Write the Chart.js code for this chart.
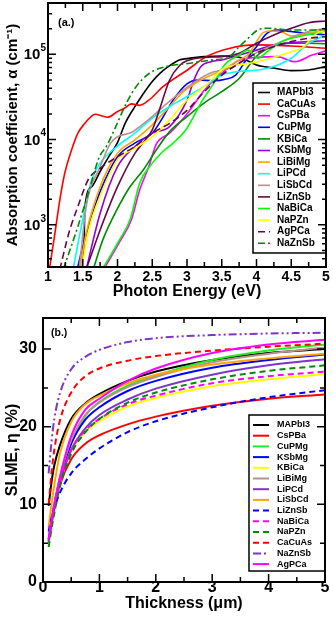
<!DOCTYPE html>
<html>
<head>
<meta charset="utf-8">
<script src="https://cdn.jsdelivr.net/npm/chart.js@4.4.1/dist/chart.umd.min.js"></script>
<style>
  html, body { margin: 0; padding: 0; background: #fff; }
  .panel { position: absolute; left: 0; width: 333px; }
  #pa { top: 0; height: 300px; }
  #pb { top: 300px; height: 320px; }
</style>
</head>
<body>
<div class="panel" id="pa"><canvas id="chart-abs" width="333" height="300"></canvas></div>
<div class="panel" id="pb"><canvas id="chart-slme" width="333" height="320"></canvas></div>
<script>
const FONT = "'Liberation Sans', Arial, Helvetica, sans-serif";
Chart.defaults.font.family = FONT;
Chart.defaults.color = '#000';

// --- (a.) absorption coefficient vs photon energy ---
const absLabels = ['MAPbI3', 'CaCuAs', 'CsPBa', 'CuPMg', 'KBiCa', 'KSbMg', 'LiBiMg', 'LiPCd', 'LiSbCd', 'LiZnSb', 'NaBiCa', 'NaPZn', 'AgPCa', 'NaZnSb'];
const absColors = ['#000000', '#ff0000', '#ff00ff', '#0000ff', '#008b00', '#9400d3', '#ffa500', '#00ffff', '#bc8f8f', '#670748', '#00ff00', '#ffff00', '#670748', '#008b00'];

const eMAPbI3 = [1.48, 1.52, 1.53, 1.63, 1.75, 1.89, 2.0, 2.11, 2.25, 2.35, 2.5, 2.61, 2.75, 2.89, 3.0, 3.25, 3.5, 3.75, 4.0, 4.25, 4.5, 4.75, 5.0];
const aMAPbI3 = [300, 670, 1580, 2810, 4220, 6600, 9230, 15500, 24400, 32500, 47900, 59800, 73600, 86000, 89000, 94000, 95600, 92300, 75000, 69000, 64400, 65500, 71800];
const eCaCuAs = [1.02, 1.1, 1.17, 1.24, 1.34, 1.43, 1.53, 1.62, 1.68, 1.78, 1.86, 2.0, 2.1, 2.2, 2.32, 2.45, 2.66, 3.0, 3.28, 3.62, 4.0, 4.5, 5.0];
const aCaCuAs = [300, 800, 1960, 4000, 7600, 11900, 15500, 18600, 19800, 18900, 18300, 21300, 23300, 26200, 25200, 29000, 42000, 65000, 94000, 118000, 129000, 125000, 118000];
const eCsPBa = [1.8, 2.02, 2.2, 2.32, 2.45, 2.56, 2.75, 3.0, 3.25, 3.5, 3.75, 4.0, 4.3, 4.55, 4.8, 5.0];
const aCsPBa = [300, 610, 1150, 2570, 4800, 8900, 11900, 20000, 38000, 60000, 85000, 92000, 94000, 82000, 98000, 110000];
const eCuPMg = [1.42, 1.5, 1.63, 1.75, 2.0, 2.25, 2.5, 2.6, 2.8, 3.0, 3.15, 3.4, 3.55, 3.7, 3.85, 4.0, 4.15, 4.3, 4.5, 4.75, 5.0];
const aCuPMg = [300, 557, 1250, 2450, 6300, 9100, 11900, 15500, 29000, 44900, 50000, 49000, 51000, 57000, 86000, 123000, 176000, 193000, 185000, 176000, 169000];
const eKBiCa = [1.65, 1.79, 1.99, 2.18, 2.37, 2.56, 2.75, 3.0, 3.25, 3.5, 3.75, 4.0, 4.25, 4.5, 4.75, 5.0];
const aKBiCa = [300, 670, 1500, 2800, 4400, 7600, 12400, 18600, 27000, 36500, 52000, 95000, 125000, 135000, 135000, 133000];
const eKSbMg = [1.55, 1.75, 2.0, 2.25, 2.5, 2.75, 3.0, 3.1, 3.2, 3.35, 3.5, 3.75, 4.0, 4.25, 4.5, 4.75, 5.0];
const aKSbMg = [300, 1370, 4800, 8300, 11900, 14200, 29000, 50000, 72000, 82000, 86000, 98000, 112000, 129000, 137000, 141000, 144000];
const eLiBiMg = [1.46, 1.55, 1.75, 2.0, 2.25, 2.5, 2.75, 2.95, 3.2, 3.5, 3.75, 3.9, 4.0, 4.1, 4.2, 4.35, 4.5, 4.75, 5.0];
const aLiBiMg = [300, 800, 2800, 6900, 9900, 14900, 24400, 36500, 50000, 65000, 86000, 103000, 141000, 181000, 188000, 185000, 164000, 176000, 196000];
const eLiPCd = [1.36, 1.5, 1.63, 1.75, 2.0, 2.25, 2.5, 2.75, 3.0, 3.25, 3.5, 3.75, 4.0, 4.25, 4.5, 4.75, 5.0];
const aLiPCd = [300, 1150, 3400, 5300, 8400, 11900, 17800, 24400, 32000, 42000, 57000, 63000, 65000, 72000, 90000, 135000, 169000];
const eLiSbCd = [1.45, 1.55, 1.75, 1.9, 2.0, 2.2, 2.32, 2.5, 2.66, 3.0, 3.33, 3.62, 4.0, 4.25, 4.5, 4.75, 5.0];
const aLiSbCd = [300, 1640, 4800, 9100, 10800, 12100, 14200, 18600, 24400, 41000, 60000, 69000, 104600, 129000, 158000, 185000, 202000];
const eLiZnSb = [1.55, 1.75, 2.0, 2.25, 2.4, 2.5, 2.6, 2.75, 2.9, 3.0, 3.25, 3.5, 3.75, 4.0, 4.25, 4.5, 4.75, 5.0];
const aLiZnSb = [300, 870, 2800, 6900, 9900, 13000, 22000, 50000, 75000, 84000, 92000, 94000, 103000, 135000, 169000, 202000, 235000, 246000];
const eNaBiCa = [1.78, 2.03, 2.18, 2.32, 2.46, 2.65, 2.8, 3.0, 3.2, 3.4, 3.54, 3.75, 3.88, 4.02, 4.15, 4.36, 4.6, 4.84, 5.0];
const aNaBiCa = [300, 670, 1150, 3100, 4800, 7200, 9100, 13600, 27000, 47900, 75000, 98000, 112000, 90000, 107000, 141000, 161000, 176000, 189000];
const eNaPZn = [1.48, 1.6, 1.75, 2.0, 2.25, 2.5, 2.75, 3.0, 3.25, 3.54, 3.75, 4.02, 4.36, 4.5, 4.65, 4.84, 4.93, 5.0];
const aNaPZn = [300, 955, 2150, 5800, 7900, 10800, 17000, 29000, 42000, 69000, 75000, 82000, 98000, 107000, 118000, 169000, 185000, 176000];
const eAgPCa = [1.17, 1.3, 1.43, 1.58, 1.75, 2.0, 2.25, 2.5, 2.75, 3.0, 3.25, 3.5, 3.75, 4.0, 4.25, 4.5, 4.75, 5.0];
const aAgPCa = [300, 800, 1640, 3400, 4600, 6300, 8300, 11900, 15500, 22000, 36500, 57000, 78500, 103000, 123000, 141000, 154000, 161000];
const eNaZnSb = [1.22, 1.43, 1.58, 1.74, 1.84, 1.98, 2.13, 2.27, 2.46, 2.7, 3.04, 3.37, 3.6, 3.73, 3.88, 4.02, 4.16, 4.5, 5.0];
const aNaZnSb = [300, 955, 2350, 6300, 8300, 14500, 27000, 42000, 60000, 72000, 78500, 86000, 92000, 118000, 154000, 193000, 202000, 193000, 193000];

const absX = [eMAPbI3, eCaCuAs, eCsPBa, eCuPMg, eKBiCa, eKSbMg, eLiBiMg, eLiPCd, eLiSbCd, eLiZnSb, eNaBiCa, eNaPZn, eAgPCa, eNaZnSb];
const absY = [aMAPbI3, aCaCuAs, aCsPBa, aCuPMg, aKBiCa, aKSbMg, aLiBiMg, aLiPCd, aLiSbCd, aLiZnSb, aNaBiCa, aNaPZn, aAgPCa, aNaZnSb];
const absDash = [[], [], [], [], [], [], [], [], [], [], [], [], [7, 4], [7, 3, 2, 3]];
const absXTicks = [1, 1.5, 2, 2.5, 3, 3.5, 4, 4.5, 5];
const absXMinor = [1.25, 1.75, 2.25, 2.75, 3.25, 3.75, 4.25, 4.75];
const absYTicks = [1e3, 1e4, 1e5];

// --- (b.) SLME vs thickness ---
const thick = [0.1, 0.15, 0.2, 0.3, 0.5, 0.75, 1, 1.5, 2, 3, 4, 5];
const slmeLabels = ['MAPbI3', 'CsPBa', 'CuPMg', 'KSbMg', 'KBiCa', 'LiBiMg', 'LiPCd', 'LiSbCd', 'LiZnSb', 'NaBiCa', 'NaPZn', 'CaCuAs', 'NaZnSb', 'AgPCa'];
const slmeColors = ['#000000', '#ff0000', '#22ee22', '#0000ff', '#ffff00', '#bc8f8f', '#8035c8', '#ffa500', '#0000ff', '#ff00ff', '#008b00', '#ff0000', '#8035c8', '#ff00ff'];
const slmeDash = [[], [], [], [], [], [], [], [], [6, 4], [6, 4], [6, 4], [6, 4], [8, 3, 2, 3, 2, 3], []];
const sMAPbI3 = [9.8, 12.8, 15.0, 17.6, 21.0, 23.0, 24.2, 25.9, 27.1, 28.6, 29.5, 30.0];
const sCsPBa = [5.3, 7.6, 9.5, 12.5, 15.8, 17.8, 18.9, 20.3, 21.3, 22.7, 23.6, 24.15];
const sCuPMg = [5.0, 7.4, 9.5, 13.0, 18.0, 21.4, 23.2, 25.3, 26.6, 28.6, 29.8, 30.6];
const sKSbMg = [5.5, 7.8, 10.0, 13.3, 17.8, 20.9, 22.5, 24.6, 25.9, 27.6, 28.6, 29.3];
const sKBiCa = [5.3, 7.6, 9.7, 12.8, 16.8, 19.3, 20.7, 22.6, 23.7, 25.2, 26.1, 26.8];
const sLiBiMg = [5.5, 7.9, 10.0, 13.5, 18.3, 21.5, 23.1, 25.1, 26.4, 28.3, 29.4, 30.2];
const sLiPCd = [5.2, 7.4, 9.5, 12.8, 17.0, 19.8, 21.5, 23.5, 24.9, 26.7, 27.9, 28.7];
const sLiSbCd = [7.0, 10.0, 12.5, 16.5, 20.6, 22.9, 24.0, 25.6, 26.7, 28.0, 28.8, 29.4];
const sLiZnSb = [6.5, 8.2, 9.5, 11.5, 14.0, 15.8, 17.2, 19.3, 20.7, 22.5, 23.8, 24.7];
const sNaBiCa = [5.5, 7.9, 10.0, 13.0, 17.0, 19.5, 21.0, 22.9, 24.0, 25.6, 26.5, 27.1];
const sNaPZn = [4.5, 6.8, 8.8, 12.3, 16.5, 19.3, 21.0, 23.1, 24.4, 26.1, 27.2, 27.9];
const sCaCuAs = [10.0, 14.0, 17.0, 20.8, 24.4, 26.5, 27.5, 28.5, 29.1, 29.8, 30.3, 30.7];
const sNaZnSb = [14.0, 18.0, 21.0, 24.3, 27.4, 29.0, 29.9, 30.9, 31.4, 31.8, 32.0, 32.1];
const sAgPCa = [5.5, 7.8, 9.8, 13.5, 18.8, 22.2, 23.6, 25.9, 27.5, 29.5, 30.6, 31.2];
const slmeY = [sMAPbI3, sCsPBa, sCuPMg, sKSbMg, sKBiCa, sLiBiMg, sLiPCd, sLiSbCd, sLiZnSb, sNaBiCa, sNaPZn, sCaCuAs, sNaZnSb, sAgPCa];
const slmeXTicks = [0, 1, 2, 3, 4, 5];
const slmeXMinor = [0.5, 1.5, 2.5, 3.5, 4.5];
const slmeYTicks = [0, 10, 20, 30];
const slmeYMinor = [5, 15, 25];

// legend drawn inside the plot, in a white box
const boxLegend = {
  id: 'boxLegend',
  afterDatasetsDraw(chart, args, o) {
    const { ctx, chartArea: a } = chart;
    const left = a.right - o.width, top = a.top + o.top;
    ctx.save();
    ctx.fillStyle = '#fff';
    ctx.fillRect(left, top, o.width, o.height);
    ctx.strokeStyle = '#000';
    ctx.lineWidth = 1.5;
    ctx.strokeRect(left, top, o.width, o.height);
    ctx.font = `bold ${o.size}px ${FONT}`;
    ctx.textBaseline = 'middle';
    ctx.textAlign = 'left';
    chart.data.datasets.forEach((ds, i) => {
      const yy = top + o.first + i * o.step;
      ctx.strokeStyle = ds.borderColor;
      ctx.lineWidth = ds.borderWidth;
      ctx.setLineDash(ds.borderDash || []);
      ctx.beginPath();
      ctx.moveTo(left + o.x0, yy);
      ctx.lineTo(left + o.x1, yy);
      ctx.stroke();
      ctx.setLineDash([]);
      ctx.fillStyle = '#000';
      ctx.fillText(ds.label, left + o.tx, yy);
    });
    ctx.restore();
  }
};

// frame with inward ticks on all four sides, panel tag, log labels
const framePlugin = {
  id: 'frame',
  afterDatasetsDraw(chart, args, o) {
    const { ctx, chartArea: a } = chart;
    const xs = chart.scales.x, ys = chart.scales.y;
    ctx.save();
    ctx.strokeStyle = '#000';
    ctx.lineWidth = 1.5;
    ctx.beginPath();
    const tx = (v, len) => {
      const p = xs.getPixelForValue(v);
      ctx.moveTo(p, a.bottom); ctx.lineTo(p, a.bottom - len);
      ctx.moveTo(p, a.top); ctx.lineTo(p, a.top + len);
    };
    const ty = (v, len) => {
      const p = ys.getPixelForValue(v);
      ctx.moveTo(a.left, p); ctx.lineTo(a.left + len, p);
      ctx.moveTo(a.right, p); ctx.lineTo(a.right - len, p);
    };
    o.xMajor.forEach(v => tx(v, 8));
    o.xMinor.forEach(v => tx(v, 5));
    o.yMajor.forEach(v => ty(v, 8));
    if (o.logY) {
      for (let d = 2; d <= 5; d++) {
        for (let k = 2; k <= 9; k++) {
          const v = k * Math.pow(10, d);
          if (v > ys.min && v < ys.max) ty(v, 4);
        }
      }
    } else {
      o.yMinor.forEach(v => ty(v, 5));
    }
    ctx.stroke();
    ctx.lineWidth = 2;
    ctx.strokeRect(a.left, a.top, a.right - a.left, a.bottom - a.top);

    ctx.fillStyle = '#000';
    if (o.logY) {
      o.yMajor.forEach(v => {
        const p = ys.getPixelForValue(v);
        const exp = String(Math.round(Math.log10(v)));
        ctx.font = `bold 10px ${FONT}`;
        const w = ctx.measureText(exp).width;
        ctx.textAlign = 'right';
        ctx.textBaseline = 'middle';
        ctx.fillText(exp, a.left - 2, p - 6);
        ctx.font = `bold 15px ${FONT}`;
        ctx.fillText('10', a.left - 2 - w, p + 1);
      });
    }
    ctx.font = `bold ${o.tagSize}px ${FONT}`;
    ctx.textAlign = 'left';
    ctx.textBaseline = 'middle';
    ctx.fillText(o.tag, a.left + o.tagX, a.top + o.tagY);
    ctx.restore();
  }
};

const tickFont = size => ({ size: size, weight: 'bold' });

new Chart(document.getElementById('chart-abs'), {
  type: 'line',
  data: {
    datasets: absX.map((ex, i) => ({
      label: absLabels[i],
      data: ex.map((e, j) => ({ x: e, y: absY[i][j] })),
      borderColor: absColors[i],
      borderWidth: 1.6,
      borderDash: absDash[i],
      pointRadius: 0,
      cubicInterpolationMode: 'monotone',
      fill: false,
      order: -i
    }))
  },
  options: {
    responsive: false,
    animation: false,
    events: [],
    layout: { padding: { left: 0, right: 7, top: 3, bottom: 0 } },
    plugins: {
      legend: { display: false },
      tooltip: { enabled: false },
      boxLegend: { width: 73, height: 170, top: 80, first: 9.5, step: 11.6, x0: 5, x1: 17, tx: 24, size: 10 },
      frame: { xMajor: absXTicks, xMinor: absXMinor, yMajor: absYTicks, logY: true, tag: '(a.)', tagX: 10, tagY: 20, tagSize: 11 }
    },
    scales: {
      x: {
        type: 'linear', min: 1, max: 5,
        afterBuildTicks: s => { s.ticks = absXTicks.map(v => ({ value: v })); },
        afterFit: s => { s.height = 33; },
        grid: { display: false, drawTicks: false },
        border: { display: false },
        ticks: { padding: 2, font: tickFont(14), color: '#000', maxRotation: 0, autoSkip: false, callback: v => String(v) },
        title: { display: true, text: 'Photon Energy (eV)', color: '#000', font: { size: 16, weight: 'bold', lineHeight: 1 }, padding: { top: 0, bottom: 0 } }
      },
      y: {
        type: 'logarithmic', min: 320, max: 4e5,
        afterBuildTicks: s => { s.ticks = absYTicks.map(v => ({ value: v })); },
        afterFit: s => { s.width = 48; },
        grid: { display: false, drawTicks: false },
        border: { display: false },
        ticks: { display: false },
        title: { display: true, text: 'Absorption coefficient, α (cm⁻¹)', color: '#000', font: { size: 15, weight: 'bold', lineHeight: 1 }, padding: { top: 5, bottom: 0 } }
      }
    }
  },
  plugins: [boxLegend, framePlugin]
});

new Chart(document.getElementById('chart-slme'), {
  type: 'line',
  data: {
    datasets: slmeY.map((ys, i) => ({
      label: slmeLabels[i],
      data: thick.map((t, j) => ({ x: t, y: ys[j] })),
      borderColor: slmeColors[i],
      borderWidth: 2,
      borderDash: slmeDash[i],
      pointRadius: 0,
      cubicInterpolationMode: 'monotone',
      fill: false,
      order: -i
    }))
  },
  options: {
    responsive: false,
    animation: false,
    events: [],
    layout: { padding: { left: 0, right: 8, top: 18, bottom: 0 } },
    plugins: {
      legend: { display: false },
      tooltip: { enabled: false },
      boxLegend: { width: 76, height: 156, top: 97, first: 10, step: 10.7, x0: 4, x1: 20, tx: 28, size: 9 },
      frame: { xMajor: slmeXTicks, xMinor: slmeXMinor, yMajor: slmeYTicks, yMinor: slmeYMinor, logY: false, tag: '(b.)', tagX: 8, tagY: 15, tagSize: 10.5 }
    },
    scales: {
      x: {
        type: 'linear', min: 0, max: 5,
        afterBuildTicks: s => { s.ticks = slmeXTicks.map(v => ({ value: v })); },
        afterFit: s => { s.height = 38; },
        grid: { display: false, drawTicks: false },
        border: { display: false },
        ticks: { padding: -2, font: { size: 16, weight: 'bold', lineHeight: 1 }, color: '#000', maxRotation: 0, autoSkip: false, callback: v => String(v) },
        title: { display: true, text: 'Thickness (μm)', color: '#000', font: { size: 16, weight: 'bold', lineHeight: 1 }, padding: { top: 0, bottom: 8 } }
      },
      y: {
        type: 'linear', min: 0, max: 34,
        afterBuildTicks: s => { s.ticks = slmeYTicks.map(v => ({ value: v })); },
        afterFit: s => { s.width = 43; },
        grid: { display: false, drawTicks: false },
        border: { display: false },
        ticks: { padding: 6, font: tickFont(16), color: '#000', callback: v => String(v) },
        title: { display: true, text: 'SLME, η (%)', color: '#000', font: { size: 16, weight: 'bold', lineHeight: 1 }, padding: { top: 5, bottom: 0 } }
      }
    }
  },
  plugins: [boxLegend, framePlugin]
});
</script>
</body>
</html>
